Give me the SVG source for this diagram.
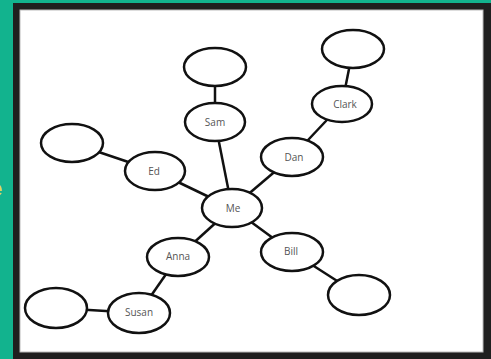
<svg xmlns="http://www.w3.org/2000/svg" width="491" height="359" viewBox="0 0 491 359">
<style>
.n ellipse{fill:#fff;stroke:#111;stroke-width:2.5}
.n text{font-family:"Open Sans","Liberation Sans",sans-serif;font-size:10px;fill:#555;text-anchor:middle}
#edges line{stroke:#111;stroke-width:2.5}
</style>
<rect x="0" y="0" width="491" height="359" fill="#12b38e"/>
<text x="-10" y="196" font-family="Liberation Sans, sans-serif" font-size="22" font-weight="bold" fill="#e2dc4c">e</text>
<rect x="13" y="3" width="478" height="356" fill="#1f1f1f"/>
<rect x="20" y="10" width="463" height="342" fill="#fff" stroke="#bbb" stroke-width="1"/>
<g id="edges">
<line x1="215" y1="67" x2="215" y2="122"/>
<line x1="215" y1="122" x2="232" y2="208"/>
<line x1="292" y1="157" x2="232" y2="208"/>
<line x1="292" y1="157" x2="342" y2="104"/>
<line x1="342" y1="104" x2="353" y2="49"/>
<line x1="72" y1="143" x2="155" y2="171"/>
<line x1="155" y1="171" x2="232" y2="208"/>
<line x1="232" y1="208" x2="178" y2="257"/>
<line x1="232" y1="208" x2="292" y2="252"/>
<line x1="292" y1="252" x2="359" y2="295"/>
<line x1="178" y1="257" x2="139" y2="313"/>
<line x1="56" y1="308" x2="139" y2="313"/>
</g>
<g id="samTop" class="n"><ellipse cx="215" cy="67" rx="31" ry="19"/></g>
<g id="sam" class="n"><ellipse cx="215" cy="122" rx="30" ry="19"/><text x="215" y="126">Sam</text></g>
<g id="clarkTop" class="n"><ellipse cx="353" cy="49" rx="31" ry="19"/></g>
<g id="clark" class="n"><ellipse cx="342" cy="104" rx="30" ry="18"/><text x="345" y="108">Clark</text></g>
<g id="dan" class="n"><ellipse cx="292" cy="157" rx="31" ry="19"/><text x="294" y="161">Dan</text></g>
<g id="edLeft" class="n"><ellipse cx="72" cy="143" rx="31" ry="19"/></g>
<g id="ed" class="n"><ellipse cx="155" cy="171" rx="30" ry="19"/><text x="154" y="175">Ed</text></g>
<g id="me" class="n"><ellipse cx="232" cy="208" rx="30" ry="19"/><text x="233" y="212">Me</text></g>
<g id="anna" class="n"><ellipse cx="178" cy="257" rx="31" ry="19"/><text x="178" y="260">Anna</text></g>
<g id="bill" class="n"><ellipse cx="292" cy="252" rx="31" ry="19"/><text x="291" y="255">Bill</text></g>
<g id="billEnd" class="n"><ellipse cx="359" cy="295" rx="31" ry="20"/></g>
<g id="susan" class="n"><ellipse cx="139" cy="313" rx="31" ry="20"/><text x="139" y="316">Susan</text></g>
<g id="susanLeft" class="n"><ellipse cx="56" cy="308" rx="31" ry="20"/></g>
</svg>
